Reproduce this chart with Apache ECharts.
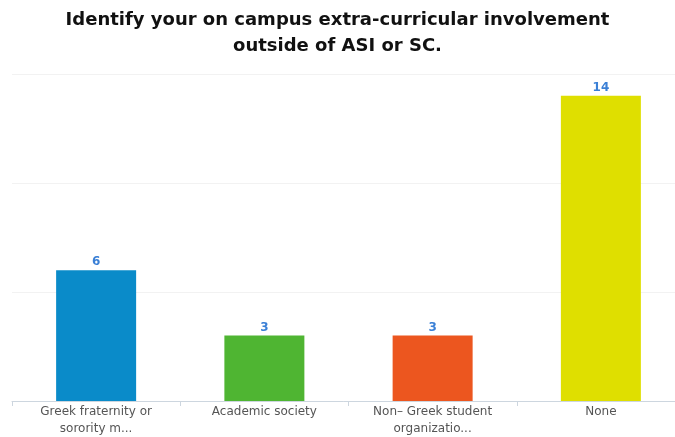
<!DOCTYPE html>
<html>
<head>
<meta charset="utf-8">
<script src="https://cdn.jsdelivr.net/npm/echarts@6/dist/echarts.min.js"></script>
<style>
  html, body { margin: 0; padding: 0; background: #fff; }
  #chart { width: 675px; height: 437px; }
</style>
</head>
<body>
<div id="chart"></div>
<script>
    let categories = [
        'Greek fraternity or\nsorority m...',
        'Academic society',
        'Non\u2013 Greek student\norganizatio...',
        'None'
    ];
    let counts = [6, 3, 3, 14];
    let barColors = ['#0a8bc9', '#4fb532', '#ec561f', '#dfdf00'];

    let chart = echarts.init(document.getElementById('chart'));

    let option = {
        animation: false,
        title: {
            text: 'Identify your on campus extra-curricular involvement\noutside of ASI or SC.',
            left: 'center',
            top: 2,
            textStyle: {
                fontFamily: 'DejaVu Sans',
                fontWeight: 'bold',
                fontSize: 18,
                lineHeight: 26,
                color: '#111'
            }
        },
        grid: {
            left: 12,
            width: 673,
            top: 74,
            bottom: 36,
            containLabel: false,
            outerBoundsMode: 'none'
        },
        xAxis: {
            type: 'category',
            data: categories,
            axisLine: { lineStyle: { color: '#cdd6df' } },
            axisTick: { show: true, length: 5, lineStyle: { color: '#cdd6df' } },
            axisLabel: {
                fontFamily: 'DejaVu Sans',
                fontSize: 12,
                lineHeight: 17,
                color: '#555',
                margin: 2,
                interval: 0
            }
        },
        yAxis: {
            type: 'value',
            min: 0,
            max: 15,
            interval: 5,
            axisLabel: { show: false },
            axisLine: { show: false },
            axisTick: { show: false },
            splitLine: { lineStyle: { color: '#f2f2f2' } }
        },
        series: [{
            type: 'bar',
            barWidth: 80,
            data: counts.map(function (v, i) {
                return { value: v, itemStyle: { color: barColors[i] } };
            }),
            label: {
                show: true,
                position: 'top',
                distance: 2,
                fontFamily: 'DejaVu Sans',
                fontWeight: 'bold',
                fontSize: 12,
                color: '#3b80d6'
            }
        }]
    };
    chart.setOption(option);
</script>
</body>
</html>
